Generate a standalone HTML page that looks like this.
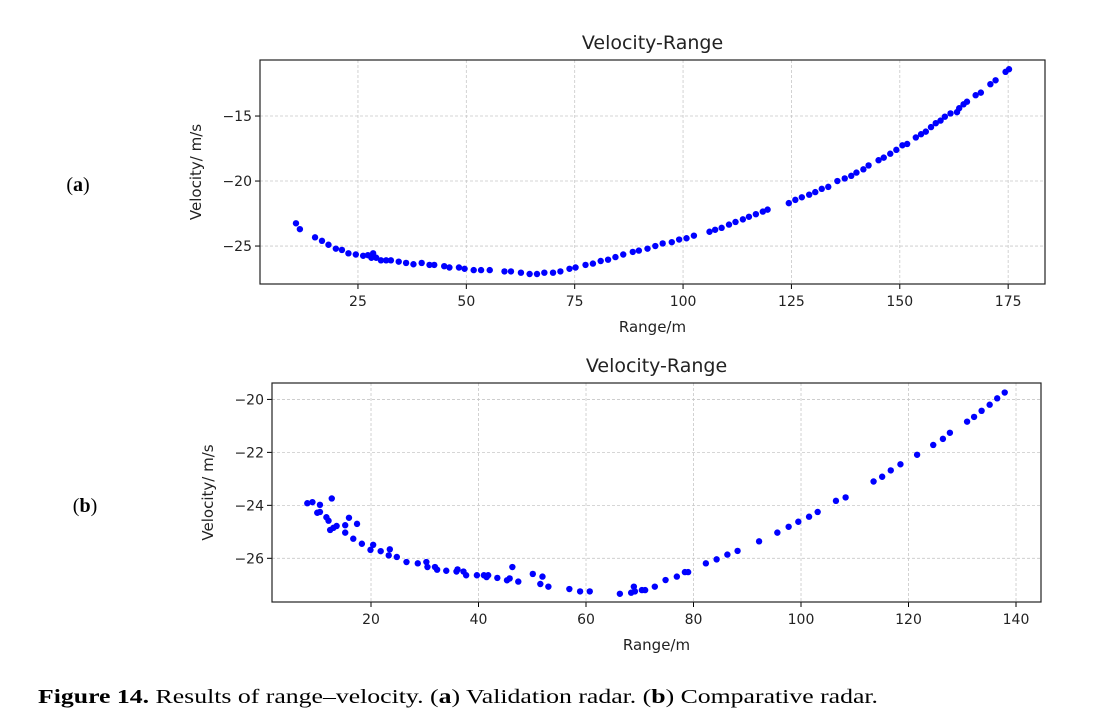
<!DOCTYPE html>
<html><head><meta charset="utf-8"><style>
html,body{margin:0;padding:0;background:#fff}
svg{display:block;font-family:"DejaVu Sans","Liberation Sans",sans-serif}
</style></head><body>
<svg id="fig" width="1107" height="724" viewBox="0 0 1107 724">
<g id="chartA"></g>
<g id="chartB"></g>
<text x="78" y="191" font-family="Liberation Serif,serif" font-size="20" text-anchor="middle">(<tspan font-weight="bold">a</tspan>)</text>
<text x="85" y="512" font-family="Liberation Serif,serif" font-size="20" text-anchor="middle">(<tspan font-weight="bold">b</tspan>)</text>
<text x="38" y="703" font-family="Liberation Serif,serif" font-size="20" textLength="840" lengthAdjust="spacingAndGlyphs"><tspan font-weight="bold">Figure 14.</tspan> Results of range–velocity. (<tspan font-weight="bold">a</tspan>) Validation radar. (<tspan font-weight="bold">b</tspan>) Comparative radar.</text>
</svg>
<script>
const rangeA=[10.7,11.6,15.1,16.7,18.2,19.9,21.3,22.8,24.5,26.2,27.3,28.5,28.1,29.2,30.3,31.5,32.6,34.4,36.1,37.8,39.7,41.5,42.6,44.9,46.1,48.3,49.6,51.7,53.4,55.4,58.8,60.3,62.6,64.6,66.3,68.0,70.0,71.7,73.8,75.2,77.5,79.2,81.0,82.7,84.4,86.2,88.4,89.8,91.8,93.6,95.3,97.4,99.1,100.8,102.5,106.1,107.4,108.9,110.6,112.1,113.8,115.2,116.8,118.4,119.5,124.4,125.9,127.4,129.1,130.5,132.0,133.5,135.6,137.3,138.8,140.0,141.6,142.8,145.1,146.3,147.8,149.2,150.6,151.7,153.7,154.9,156.0,157.2,158.3,159.4,160.4,161.7,163.2,163.7,164.7,165.5,167.5,168.7,170.9,172.1,174.4,175.2];
const velA=[-23.25,-23.7,-24.33,-24.6,-24.9,-25.2,-25.3,-25.56,-25.65,-25.75,-25.7,-25.56,-25.9,-25.9,-26.1,-26.1,-26.1,-26.2,-26.3,-26.4,-26.3,-26.45,-26.45,-26.55,-26.65,-26.65,-26.75,-26.85,-26.85,-26.85,-26.95,-26.95,-27.05,-27.15,-27.15,-27.05,-27.05,-26.95,-26.75,-26.65,-26.45,-26.35,-26.15,-26.05,-25.85,-25.65,-25.45,-25.35,-25.2,-25.0,-24.8,-24.7,-24.5,-24.4,-24.2,-23.9,-23.75,-23.6,-23.35,-23.15,-22.95,-22.75,-22.55,-22.35,-22.2,-21.7,-21.45,-21.25,-21.05,-20.85,-20.6,-20.45,-20.0,-19.8,-19.6,-19.35,-19.1,-18.8,-18.4,-18.2,-17.9,-17.6,-17.25,-17.15,-16.65,-16.4,-16.2,-15.85,-15.55,-15.35,-15.05,-14.8,-14.7,-14.4,-14.1,-13.9,-13.4,-13.2,-12.55,-12.25,-11.6,-11.4];
const xTicksA=[25,50,75,100,125,150,175];
const yTicksA=[-15,-20,-25];
const rangeB=[8.15,9.1,10.5,10.0,10.5,12.7,11.7,12.1,12.4,13.0,13.6,15.2,15.9,15.2,17.4,16.7,18.3,19.9,20.4,21.8,23.3,23.5,24.8,26.6,28.7,30.3,30.5,31.9,32.3,34.0,35.9,36.1,37.2,37.7,39.7,41.0,41.8,41.5,43.5,45.3,45.8,46.3,47.4,50.1,51.5,51.9,53.0,56.9,58.9,60.7,66.3,68.4,68.9,69.1,70.4,71.0,72.8,74.8,76.9,78.4,79.0,82.3,84.3,86.3,88.2,92.2,95.6,97.7,99.5,101.5,103.1,106.5,108.3,113.5,115.1,116.7,118.5,121.6,124.6,126.4,127.7,130.9,132.2,133.6,135.1,136.5,137.9];
const velB=[-23.92,-23.88,-23.98,-24.28,-24.25,-23.74,-24.45,-24.58,-24.93,-24.85,-24.78,-24.75,-24.47,-25.03,-24.7,-25.26,-25.45,-25.68,-25.49,-25.73,-25.89,-25.66,-25.95,-26.14,-26.19,-26.14,-26.33,-26.33,-26.43,-26.47,-26.5,-26.42,-26.5,-26.64,-26.64,-26.64,-26.64,-26.71,-26.74,-26.83,-26.76,-26.33,-26.88,-26.59,-26.97,-26.69,-27.07,-27.16,-27.25,-27.25,-27.34,-27.3,-27.07,-27.25,-27.2,-27.2,-27.07,-26.82,-26.69,-26.52,-26.52,-26.19,-26.04,-25.86,-25.72,-25.36,-25.03,-24.81,-24.62,-24.43,-24.25,-23.83,-23.7,-23.1,-22.92,-22.68,-22.45,-22.09,-21.72,-21.49,-21.26,-20.84,-20.66,-20.43,-20.2,-19.96,-19.74];
const xTicksB=[20,40,60,80,100,120,140];
const yTicksB=[-20,-22,-24,-26];

const NS="http://www.w3.org/2000/svg";
function mk(parent,tag,attrs){const e=document.createElementNS(NS,tag);for(const k in attrs)e.setAttribute(k,attrs[k]);parent.appendChild(e);return e;}

function drawChart(g,cfg,xs,ys,xt,yt){
  const {L,R,T,B,x0,x1,y0,y1}=cfg;
  const sx=v=>L+(v-x0)/(x1-x0)*(R-L);
  const sy=v=>B-(v-y0)/(y1-y0)*(B-T);
  xt.forEach(t=>{
    const x=sx(t);
    const gl=mk(g,'line',{x1:x,x2:x,y1:T,y2:B,stroke:'#c8c8c8','stroke-width':0.8,'stroke-dasharray':'3,2'});
    
    
    const tk=mk(g,'line',{x1:x,x2:x,y1:B,y2:B+5,stroke:'#000','stroke-width':1});
    
    
    const tl=mk(g,'text',{x:x,y:B+22,'font-size':14,'text-anchor':'middle',fill:'#222'});
    tl.textContent=String(t);
    
    
  });
  yt.forEach(t=>{
    const y=sy(t);
    const gl=mk(g,'line',{x1:L,x2:R,y1:y,y2:y,stroke:'#c8c8c8','stroke-width':0.8,'stroke-dasharray':'3,2'});
    
    
    const tk=mk(g,'line',{x1:L-5,x2:L,y1:y,y2:y,stroke:'#000','stroke-width':1});
    
    
    const tl=mk(g,'text',{x:L-8,y:y+5,'font-size':14,'text-anchor':'end',fill:'#222'});
    tl.textContent='\u2212'+Math.abs(t);
    
    
  });
  xs.forEach((v,i)=>{
    const c=mk(g,'circle',{cx:sx(v),cy:sy(ys[i]),r:3.2,fill:'#0000ff'});
    
    
  });
  const fr=mk(g,'rect',{x:L,y:T,width:R-L,height:B-T,fill:'none',stroke:'#222','stroke-width':1.2});
  
  
  const ti=mk(g,'text',{x:(L+R)/2,y:T-11,'font-size':19,'text-anchor':'middle',fill:'#222'});
  ti.textContent='Velocity-Range';
  
  
  const xl=mk(g,'text',{x:(L+R)/2,y:B+48,'font-size':15,'text-anchor':'middle',fill:'#222'});
  xl.textContent='Range/m';
  
  
  const yx=cfg.ylx, yy=(T+B)/2;
  const yl=mk(g,'text',{x:yx,y:yy,'font-size':15,'text-anchor':'middle',fill:'#222',transform:`rotate(-90 ${yx} ${yy})`});
  yl.textContent='Velocity/ m/s';
  
  
}
drawChart(document.getElementById('chartA'),{L:260,R:1045,T:60,B:284,x0:2.4,x1:183.5,y0:-27.92,y1:-10.69,ylx:201},rangeA,velA,xTicksA,yTicksA);
drawChart(document.getElementById('chartB'),{L:272,R:1041,T:383,B:602,x0:1.58,x1:144.65,y0:-27.65,y1:-19.38,ylx:213},rangeB,velB,xTicksB,yTicksB);
</script>
</body></html>
